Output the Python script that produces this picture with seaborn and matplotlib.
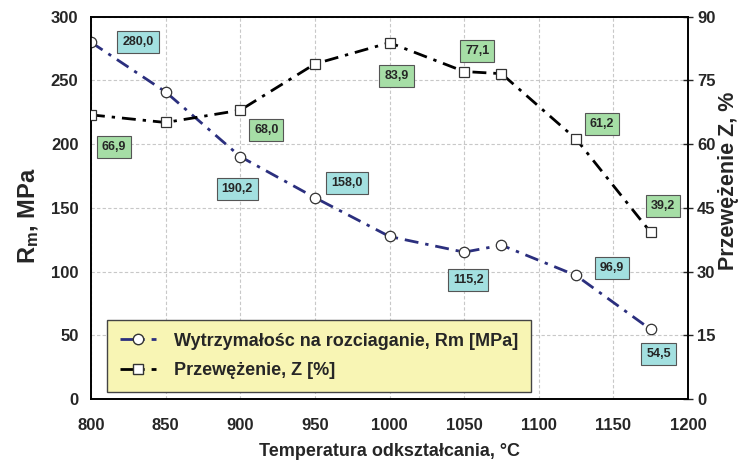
import matplotlib
matplotlib.use("Agg")
import matplotlib.pyplot as plt
import seaborn as sns
import numpy as np
import pandas as pd
from matplotlib.lines import Line2D

# data
temps = [800, 850, 900, 950, 1000, 1050, 1075, 1125, 1175]
rm = [280.0, 241.0, 190.2, 158.0, 127.5, 115.2, 120.7, 96.9, 54.5]
z = [66.9, 65.1, 68.0, 78.9, 83.9, 77.1, 76.6, 61.2, 39.2]

# labelled points: (temperature, value, label text)
rm_labels = [(800, 280.0, "280,0"), (900, 190.2, "190,2"), (950, 158.0, "158,0"),
             (1050, 115.2, "115,2"), (1125, 96.9, "96,9"), (1175, 54.5, "54,5")]
z_labels = [(800, 66.9, "66,9"), (900, 68.0, "68,0"), (1000, 83.9, "83,9"),
            (1050, 77.1, "77,1"), (1125, 61.2, "61,2"), (1175, 39.2, "39,2")]
# label box offsets in pixels (dx, dy) from the data point
rm_offsets = [(47, 0), (-3, -32), (32, 15), (4, -28), (36, 7), (8, -25)]
z_offsets = [(23, -32), (26, -20), (7, -33), (13, 21), (26, 15), (12, 26)]

df = pd.DataFrame({"T": temps, "Rm": rm, "Z": z})

sns.set_style("white")
plt.rcParams["font.family"] = ["Liberation Sans", "DejaVu Sans"]
plt.rcParams["font.weight"] = "bold"
plt.rcParams["mathtext.fontset"] = "custom"
plt.rcParams["mathtext.rm"] = "Liberation Sans:bold"
plt.rcParams["mathtext.it"] = "Liberation Sans:bold"
plt.rcParams["mathtext.bf"] = "Liberation Sans:bold"

fig, ax = plt.subplots(figsize=(7.52, 4.66), dpi=100)
fig.subplots_adjust(left=0.121, right=0.915, bottom=0.144, top=0.964)
ax2 = ax.twinx()

navy = "#2b2f7e"
dashdot = (0, (5, 2.5, 1.2, 2.5))

sns.lineplot(data=df, x="T", y="Rm", ax=ax, color=navy, linewidth=2,
             linestyle=dashdot, marker="o", markersize=7.5,
             markerfacecolor="white", markeredgecolor="#333333",
             markeredgewidth=0.9, zorder=3)
sns.lineplot(data=df, x="T", y="Z", ax=ax2, color="black", linewidth=2,
             linestyle=dashdot, marker="s", markersize=7.8,
             markerfacecolor="white", markeredgecolor="#333333",
             markeredgewidth=0.9, zorder=3)

box_kw = dict(ha="center", va="center", fontsize=9, fontweight="bold",
              textcoords="offset pixels")
for (x, y, t), off in zip(rm_labels, rm_offsets):
    ax.annotate(t, (x, y), xytext=off,
                bbox=dict(boxstyle="square,pad=0.4", fc="#a3e0e0", ec="#555555", lw=0.8),
                **box_kw)
for (x, y, t), off in zip(z_labels, z_offsets):
    ax2.annotate(t, (x, y), xytext=off,
                 bbox=dict(boxstyle="square,pad=0.4", fc="#a6dea6", ec="#555555", lw=0.8),
                 **box_kw)

ax.set_xlim(800, 1200)
ax.set_ylim(0, 300)
ax2.set_ylim(0, 90)
ax.set_xticks(np.arange(800, 1201, 50))
ax.set_yticks(np.arange(0, 301, 50))
ax2.set_yticks(np.arange(0, 91, 15))

ax.grid(True, color="#c8c8c8", linestyle=(0, (3, 2)), linewidth=0.8)
ax.set_axisbelow(True)

ax.tick_params(axis="both", length=0, labelsize=12)
ax.tick_params(axis="x", pad=14)
ax.tick_params(axis="y", pad=9)
ax2.tick_params(axis="y", direction="inout", length=7, width=1, labelsize=12, pad=3)

for a in (ax, ax2):
    for s in a.spines.values():
        s.set_color("black")
        s.set_linewidth(1.2)

ax.set_xlabel("Temperatura odkształcania, °C", fontsize=13, fontweight="bold", labelpad=7)
ax.set_ylabel(r"R$_\mathregular{m}$, MPa", fontsize=17, fontweight="bold", labelpad=7)
ax2.set_ylabel("Przewężenie Z, %", fontsize=15.5, fontweight="bold", labelpad=2)
ax.yaxis.label.set_y(0.48)
ax2.yaxis.label.set_y(0.57)

handles = [
    Line2D([], [], color=navy, linewidth=2, linestyle=dashdot, marker="o",
           markersize=7.5, markerfacecolor="white", markeredgecolor="#333333"),
    Line2D([], [], color="black", linewidth=2, linestyle=dashdot, marker="s",
           markersize=7.8, markerfacecolor="white", markeredgecolor="#333333"),
]
leg = ax2.legend(handles, ["Wytrzymałośc na rozciaganie, Rm [MPa]", "Przewężenie, Z [%]"],
                 loc="lower left", bbox_to_anchor=(0.027, 0.018), borderaxespad=0,
                 fancybox=False, facecolor="#f8f5b4", edgecolor="#444444",
                 framealpha=1, prop={"size": 13, "weight": "bold"},
                 handlelength=2.0, handletextpad=1.0,
                 borderpad=0.7, labelspacing=0.7)
leg.get_frame().set_linewidth(1.0)

fig.savefig("out.png", dpi=100)
